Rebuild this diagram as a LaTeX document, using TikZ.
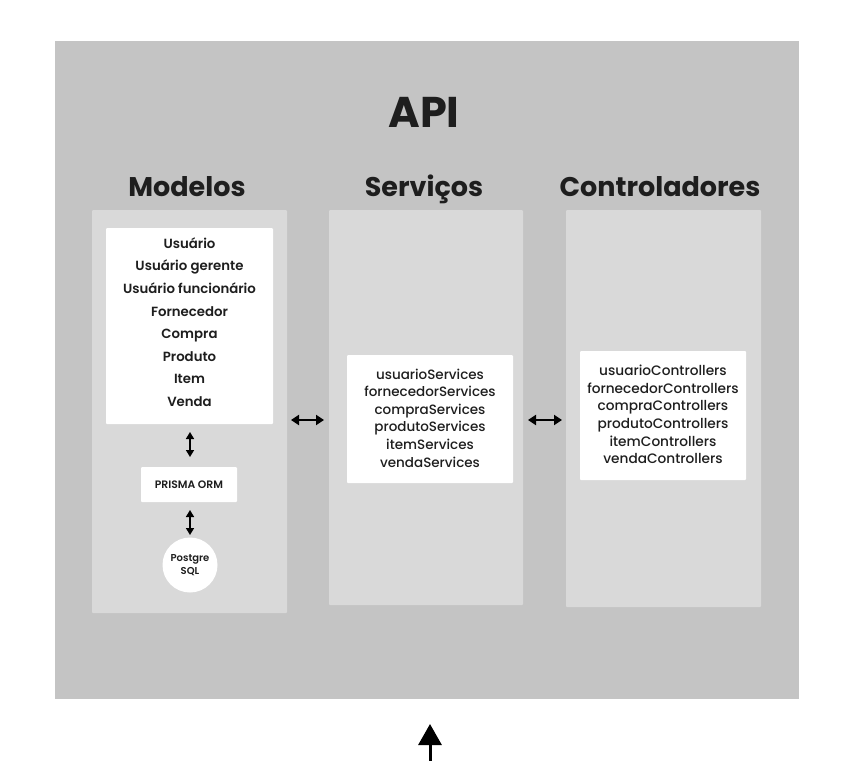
\documentclass[tikz,border=0pt]{standalone}
\usepackage{fontspec}
\setmainfont{Poppins}
\newfontfamily\poppmed{Poppins Medium}
\newfontfamily\poppsemi{Poppins SemiBold}
\usetikzlibrary{arrows.meta}
\definecolor{outerg}{HTML}{C4C4C4}
\definecolor{panelg}{HTML}{D9D9D9}
\definecolor{inkc}{HTML}{1E1E1E}
\begin{document}
\begin{tikzpicture}[x=1pt,y=-1pt,
  panel/.style={fill=panelg,draw=none,rounded corners=1pt},
  wbox/.style={fill=white,draw=none,rounded corners=1pt},
  heading/.style={anchor=base,font=\bfseries\fontsize{27}{32}\selectfont,text=inkc},
  listtxt/.style={align=center,text=inkc,font=\poppmed\fontsize{13.5}{17.6}\selectfont},
  harrow/.style={{Triangle[length=8pt,width=10pt]}-{Triangle[length=8pt,width=10pt]},line width=2pt},
  varrow/.style={{Triangle[length=7pt,width=8pt]}-{Triangle[length=7pt,width=8pt]},line width=1.6pt}]
\useasboundingbox (0,0) rectangle (847,761);
\fill[outerg] (55,41) rectangle (799,699);
\node[heading,font=\bfseries\fontsize{43}{50}\selectfont] (api) at (424,127) {API};
\node[heading] (hmod) at (187,196) {Modelos};
\node[heading] (hser) at (424,196) {Serviços};
\node[heading] (hctl) at (660,196) {Controladores};
% panels
\path[panel] (92,210) rectangle (287,613);
\path[panel] (329,210) rectangle (523,605);
\path[panel] (566,210) rectangle (761,607);
% Modelos content
\path[wbox] (106,228) rectangle (273,424);
\node[listtxt,font=\poppsemi\fontsize{13.3}{22.6}\selectfont] (models) at (189.5,322) {Usuário\\Usuário gerente\\Usuário funcionário\\Fornecedor\\Compra\\Produto\\Item\\Venda};
\node[wbox,minimum width=96pt,minimum height=35pt,inner sep=0pt,text=inkc,font=\poppsemi\fontsize{10.8}{12}\selectfont] (prisma) at (189,484.5) {PRISMA ORM};
\node[circle,fill=white,minimum size=55pt,inner sep=0pt,align=center,text=inkc,font=\poppsemi\fontsize{10}{13}\selectfont] (pg) at (190,565) {Postgre\\SQL};
\coordinate (v1t) at (190,432);
\coordinate (v1b) at (190,457);
\coordinate (v2t) at (190,510);
\coordinate (v2b) at (190,535);
\draw[varrow] (v1t) -- (v1b);
\draw[varrow] (v2t) -- (v2b);
% Services
\node[wbox,minimum width=166pt,minimum height=128pt,inner sep=0pt] (sbox) at (430,419) {};
\node[listtxt] (stxt) at (430,418) {usuarioServices\\fornecedorServices\\compraServices\\produtoServices\\itemServices\\vendaServices};
% Controllers
\node[wbox,minimum width=166pt,minimum height=129pt,inner sep=0pt] (cbox) at (663,415.5) {};
\node[listtxt,font=\poppmed\fontsize{13.7}{17.6}\selectfont] (ctxt) at (663,414.5) {usuarioControllers\\fornecedorControllers\\compraControllers\\produtoControllers\\itemControllers\\vendaControllers};
% horizontal arrows
\coordinate (a1l) at (291,420);
\coordinate (a1r) at (324,420);
\coordinate (a2l) at (528,420);
\coordinate (a2r) at (562,420);
\draw[harrow] (a1l) -- (a1r);
\draw[harrow] (a2l) -- (a2r);
% bottom arrow
\coordinate (bb) at (430,761);
\coordinate (bt) at (430,724);
\draw[line width=3pt,-{Triangle[length=21pt,width=23pt]}] (bb) -- (bt);
\end{tikzpicture}
\end{document}
